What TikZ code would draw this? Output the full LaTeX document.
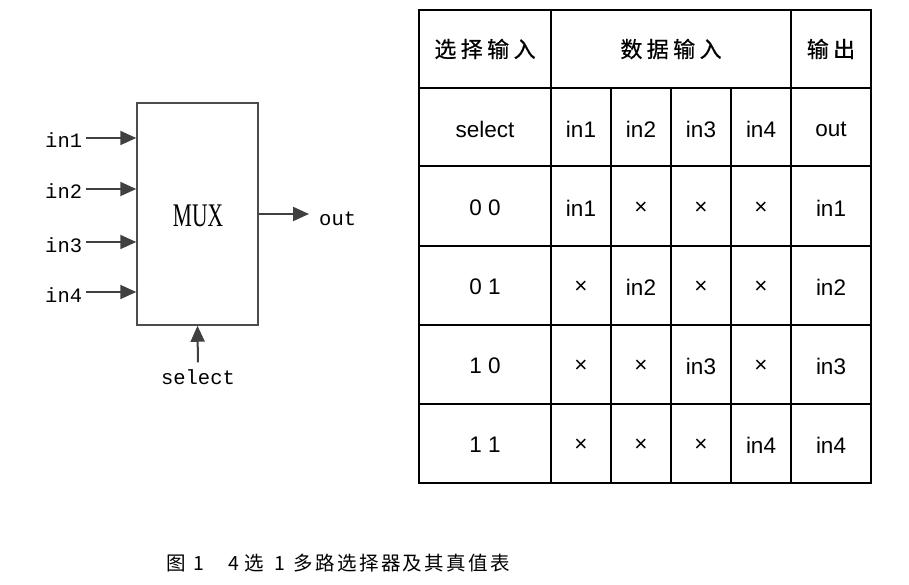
\documentclass[tikz,border=0pt]{standalone}
\usepackage{fontspec}
\setmainfont{Liberation Sans}
\newfontfamily\cjkfont[LetterSpace=20,FakeBold=0.6]{Noto Sans CJK SC}
\newfontfamily\capfont[LetterSpace=12]{Noto Sans CJK SC}
\newfontfamily\pinfont{Liberation Mono}
\newfontfamily\muxfont{Liberation Serif}
\usetikzlibrary{arrows.meta}

\begin{document}
\begin{tikzpicture}[x=1pt, y=-1pt,
  grid/.style={line width=2pt},
  cell/.style={font=\fontsize{22.5}{22.5}\selectfont, inner sep=0pt},
  head/.style={font=\cjkfont\fontsize{22}{22}\selectfont, inner sep=0pt},
  pin/.style={font=\pinfont\fontsize{20.5}{20.5}\selectfont, inner sep=0pt},
  wire/.style={black!75, line width=2pt, -{Triangle[length=16pt,width=14pt]}}]
\useasboundingbox (0,0) rectangle (909,585);

% the 4-to-1 multiplexer
\node[draw=black!70, line width=1.5pt, minimum width=121pt, minimum height=222pt, inner sep=0pt] (mux) at (197.5,214) {};
\node[font=\muxfont\fontsize{33}{33}\selectfont, xscale=.65, inner sep=0pt] (muxtext) at (198,216) {MUX};
\foreach \i/\y in {1/138,2/189,3/242,4/292} {
  \node[pin, anchor=base west] (in\i) at (45,\y+10) {in\i};
  \coordinate (a\i) at (86,\y);
  \draw[wire] (a\i) -- (a\i -| mux.west);
}
\node[pin, anchor=west] (out) at (319,219) {out};
\draw[wire] (mux.east) -- (mux.east -| out.west) [shorten >=10pt];
\node[pin] (sel) at (198,377) {select};
\draw[wire] (sel.north) -- (mux.south) [shorten <=7pt];

% truth table grid
\draw[grid] (419,10) rectangle (871,483);
\foreach \y in {88,166,246,325,404} {
  \draw[grid] (419,\y) -- (871,\y);
}
\foreach \x in {551,791} {
  \draw[grid] (\x,10) -- (\x,483);
}
\foreach \x in {611,671,731} {
  \draw[grid] (\x,88) -- (\x,483);
}

% header rows
\node[head] (h1) at (485,49) {选择输入};
\node[head] (h2) at (671,49) {数据输入};
\node[head] (h3) at (831,49) {输出};
\node[cell] (sh) at (485,129) {select};
\node[cell] (ih1) at (581,129) {in1};
\node[cell] (ih2) at (641,129) {in2};
\node[cell] (ih3) at (701,129) {in3};
\node[cell] (ih4) at (761,129) {in4};
\node[cell] (oh) at (831,129) {out};

% data rows
\foreach \r/\y/\s/\a/\b/\c/\d/\o in {1/208/0 0/in1/×/×/×/in1,
                                     2/287/0 1/×/in2/×/×/in2,
                                     3/366/1 0/×/×/in3/×/in3,
                                     4/445/1 1/×/×/×/in4/in4} {
  \node[cell] (s\r) at (485,\y) {\s};
  \node[cell] (c\r1) at (581,\y) {\a};
  \node[cell] (c\r2) at (641,\y) {\b};
  \node[cell] (c\r3) at (701,\y) {\c};
  \node[cell] (c\r4) at (761,\y) {\d};
  \node[cell] (o\r) at (831,\y) {\o};
}

% caption
\node[font=\capfont\fontsize{19.5}{19.5}\selectfont, anchor=west, inner sep=0pt] (cap) at (166,563)
  {图\hspace{8pt}1\hspace{24pt}4\hspace{5pt}选\hspace{11pt}1\hspace{8pt}多路选择器及其真值表};
\end{tikzpicture}
\end{document}
